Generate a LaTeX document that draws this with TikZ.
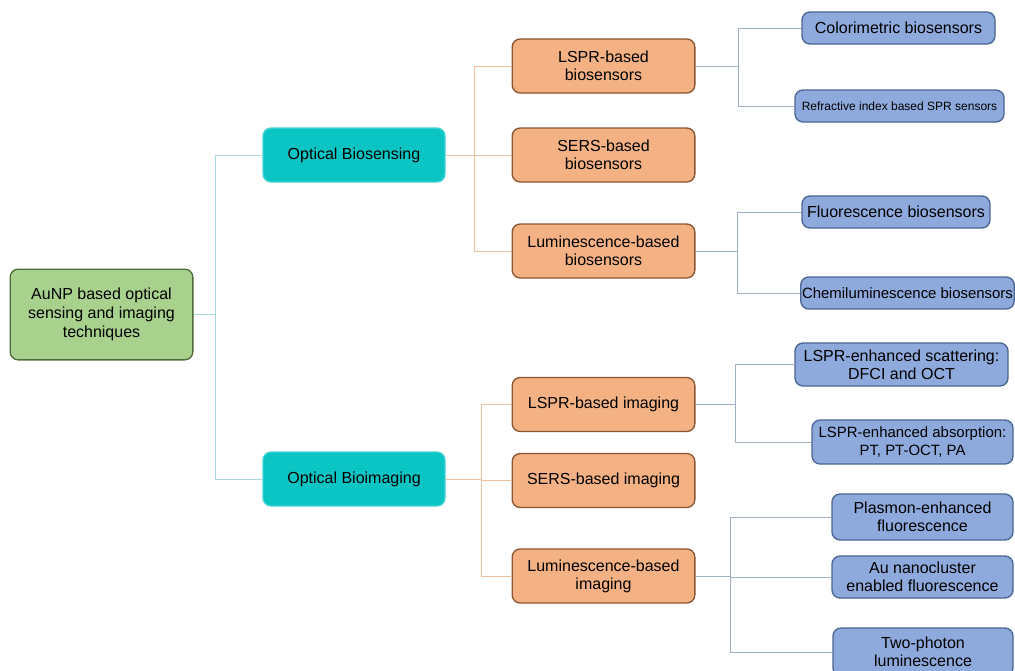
\documentclass[tikz,border=0pt]{standalone}
\usepackage{fontspec}
\setmainfont{Liberation Sans}
\usetikzlibrary{positioning}

\definecolor{rootgreen}{HTML}{A9D18E}
\definecolor{rootedge}{HTML}{4F6B3A}
\definecolor{groupcyan}{HTML}{0BC4C4}
\definecolor{groupedge}{HTML}{45D4D4}
\definecolor{methodorange}{HTML}{F4B183}
\definecolor{methodedge}{HTML}{8A5530}
\definecolor{leafblue}{HTML}{8EA9DB}
\definecolor{leafedge}{HTML}{4A6590}
\definecolor{rootlink}{HTML}{A9D6DB}
\definecolor{grouplink}{HTML}{F1C09C}
\definecolor{leaflink}{HTML}{A0AEC6}

\begin{document}
\begin{tikzpicture}[x=0.75pt,y=-0.75pt,
                    box/.style={draw, rounded corners=6pt, line width=1pt,
                    align=center, inner sep=1pt,
                    font=\fontsize{12}{13.5}\selectfont},
                    rootbox/.style={box, fill=rootgreen, draw=rootedge,
                    minimum width=137pt, minimum height=68pt,
                    font=\fontsize{12}{14}\selectfont},
                    groupbox/.style={box, fill=groupcyan, draw=groupedge,
                    minimum width=136.5pt, minimum height=40.5pt},
                    methodbox/.style={box, fill=methodorange, draw=methodedge,
                    minimum width=137pt, minimum height=40.5pt},
                    leafbox/.style={box, fill=leafblue, draw=leafedge,
                    minimum height=24pt},
                    link/.style={line width=0.7pt}]
  \useasboundingbox (0,0) rectangle (1015,671);
  \clip (0,0) rectangle (1015,671);

  \node[rootbox] (root) at (101.5,314.5) {AuNP based optical\\sensing and imaging\\techniques};
  \node[groupbox] (sensing) at (354,155) {Optical Biosensing};
  \node[groupbox] (imaging) at (354,479) {Optical Bioimaging};

  \node[methodbox] (lsprbio) at (603.5,66) {LSPR-based\\biosensors};
  \node[methodbox] (sersbio) at (603.5,155) {SERS-based\\biosensors};
  \node[methodbox] (luminbio) at (603.5,251) {Luminescence-based\\biosensors};
  \node[methodbox] (lsprimg) at (603.5,404.5) {LSPR-based imaging};
  \node[methodbox] (sersimg) at (603.5,480.5) {SERS-based imaging};
  \node[methodbox] (luminimg) at (603.5,576) {Luminescence-based\\imaging};

  \node[leafbox, minimum width=144.75pt] (colori) at (898.5,28) {Colorimetric biosensors};
  \node[leafbox, minimum width=156.75pt, font=\fontsize{9}{10}\selectfont]
    (refract) at (899.5,106) {Refractive index based SPR sensors};
  \node[leafbox, minimum width=141pt] (fluobio) at (896,212) {Fluorescence biosensors};
  \node[leafbox, minimum width=158.25pt, font=\fontsize{11.2}{13}\selectfont]
    (chemibio) at (907.5,293) {Chemiluminescence biosensors};
  \node[leafbox, minimum width=159.75pt, minimum height=32.25pt]
    (scatter) at (901.5,364.5) {LSPR-enhanced scattering:\\DFCI and OCT};
  \node[leafbox, minimum width=150.75pt, minimum height=33pt, font=\fontsize{11.2}{13.5}\selectfont]
    (absorb) at (912.5,442) {LSPR-enhanced absorption:\\PT, PT-OCT, PA};
  \node[leafbox, minimum width=135.75pt, minimum height=34.5pt]
    (plasmon) at (922.5,517) {Plasmon-enhanced\\fluorescence};
  \node[leafbox, minimum width=135.75pt, minimum height=31.5pt]
    (cluster) at (922.5,577) {Au nanocluster\\enabled fluorescence};
  \node[leafbox, minimum width=135pt, minimum height=36pt]
    (twophoton) at (923,652) {Two-photon\\luminescence};

  \coordinate (rootfork) at (215,314.5);
  \coordinate (sensefork) at (474,155);
  \coordinate (imagefork) at (481,479);
  \coordinate (lsprbiofork) at (738,66);
  \coordinate (luminbiofork) at (737,251);
  \coordinate (lsprimgfork) at (735,404.5);
  \coordinate (luminimgfork) at (730,576);

  \draw[link, rootlink] (root.east) -- (rootfork) |- (sensing.west);
  \draw[link, rootlink] (rootfork) |- (imaging.west);

  \draw[link, grouplink] (sensing.east) -- (sensefork);
  \foreach \meth in {lsprbio,sersbio,luminbio}
    \draw[link, grouplink] (sensefork) |- (\meth.west);
  \draw[link, grouplink] (imaging.east) -- (imagefork);
  \foreach \meth in {lsprimg,sersimg,luminimg}
    \draw[link, grouplink] (imagefork) |- (\meth.west);

  \draw[link, leaflink] (lsprbio.east) -- (lsprbiofork) |- (colori.west);
  \draw[link, leaflink] (lsprbiofork) |- (refract.west);
  \draw[link, leaflink] (luminbio.east) -- (luminbiofork) |- (fluobio.west);
  \draw[link, leaflink] (luminbiofork) |- (chemibio.west);
  \draw[link, leaflink] (lsprimg.east) -- (lsprimgfork) |- (scatter.west);
  \draw[link, leaflink] (lsprimgfork) |- (absorb.west);
  \draw[link, leaflink] (luminimg.east) -- (luminimgfork) |- (plasmon.west);
  \draw[link, leaflink] (luminimgfork) |- (cluster.west);
  \draw[link, leaflink] (luminimgfork) |- (twophoton.west);
\end{tikzpicture}
\end{document}
